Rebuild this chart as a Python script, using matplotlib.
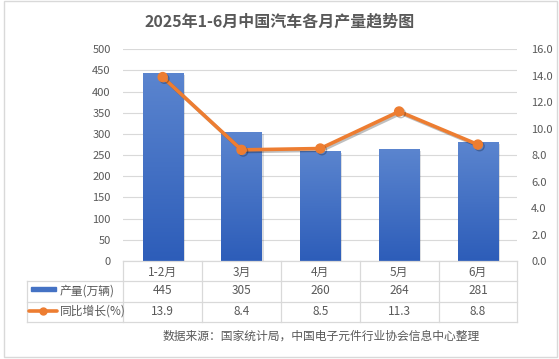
import numpy as np
import matplotlib
matplotlib.use('Agg')
import matplotlib.pyplot as plt
import matplotlib.patheffects as pe
from matplotlib.colors import LinearSegmentedColormap
from matplotlib.lines import Line2D
from matplotlib.patches import Rectangle
from matplotlib.transforms import blended_transform_factory

plt.rcParams['font.family'] = ['Noto Sans CJK SC', 'DejaVu Sans']

# data
months = ['1-2月', '3月', '4月', '5月', '6月']
output = [445, 305, 260, 264, 281]          # 产量(万辆)
yoy = [13.9, 8.4, 8.5, 11.3, 8.8]           # 同比增长(%)
output_lbl = ['445', '305', '260', '264', '281']
yoy_lbl = ['13.9', '8.4', '8.5', '11.3', '8.8']

title = '2025年1-6月中国汽车各月产量趋势图'
source = '数据来源：国家统计局，中国电子元件行业协会信息中心整理'

W, H = 559, 359
gray = '#595959'
line_gray = '#D9D9D9'
blue = '#4472C4'
orange = '#ED7D31'


def fx(px):
    return px / W


def fy(py):
    return 1 - py / H


fig = plt.figure(figsize=(W / 100, H / 100), dpi=100)

# outer frame
fig.patches.append(Rectangle((fx(4), fy(357)), fx(557) - fx(4), fy(1) - fy(357),
                             transform=fig.transFigure, fill=False,
                             edgecolor=line_gray, lw=1))

ax = fig.add_axes([fx(123.3), fy(261), fx(517.3) - fx(123.3), fy(49.3) - fy(261)])
ax2 = ax.twinx()

x = np.arange(len(months))

# bars with a vertical gradient
bars = ax.bar(x, output, width=0.51, color=blue, zorder=2)
cmap = LinearSegmentedColormap.from_list('bar', ['#2D5DB9', '#5B85CF'])
grad = np.linspace(0, 1, 256).reshape(-1, 1)
for b in bars:
    b.set_path_effects([pe.SimplePatchShadow(offset=(1.5, -1.5), alpha=0.15), pe.Normal()])
    x0, y0 = b.get_x(), b.get_y()
    im = ax.imshow(grad, cmap=cmap, origin='lower', aspect='auto',
                   extent=[x0, x0 + b.get_width(), y0, y0 + b.get_height()], zorder=2.1)
    im.set_clip_path(b)

ax.set_xlim(-0.5, len(months) - 0.5)
ax.set_ylim(0, 500)
ax.set_yticks(np.arange(0, 501, 50))
ax.grid(axis='y', color=line_gray, lw=0.8, zorder=0)
ax.set_axisbelow(True)

ax2.set_ylim(0, 16)
ax2.set_yticks(np.arange(0, 16.1, 2))
ax2.yaxis.set_major_formatter(matplotlib.ticker.FormatStrFormatter('%.1f'))
ax2.plot(x, yoy, color=orange, lw=2.6, marker='o', ms=6.5, zorder=3,
         path_effects=[pe.SimpleLineShadow(offset=(1.2, -1.2), alpha=0.25), pe.Normal()])

for a in (ax, ax2):
    for s in a.spines.values():
        s.set_visible(False)
ax.tick_params(axis='y', length=0, pad=9, labelsize=8, labelcolor=gray)
ax2.tick_params(axis='y', length=0, pad=10, labelsize=8, labelcolor=gray)
ax.set_xticks(x, months)
ax.tick_params(axis='x', length=0, pad=3.5, labelsize=8.5, labelcolor=gray)

# data table under the plot
tr = blended_transform_factory(ax.transData, fig.transFigure)
row_y = [261, 281, 301.5, 322]
for i in range(len(months)):
    ax.text(x[i], fy(291), output_lbl[i], transform=tr, ha='center', va='center',
            fontsize=8.5, color=gray, clip_on=False)
    ax.text(x[i], fy(311.5), yoy_lbl[i], transform=tr, ha='center', va='center',
            fontsize=8.5, color=gray, clip_on=False)

for xb in np.arange(-0.5, len(months), 1.0):
    fig.add_artist(Line2D([xb, xb], [fy(261), fy(322)], transform=tr, color=line_gray, lw=0.9))
fig.add_artist(Line2D([fx(123.3), fx(517.3)], [fy(261), fy(261)],
                      transform=fig.transFigure, color=line_gray, lw=0.9))
for yy in row_y[1:]:
    fig.add_artist(Line2D([fx(26.7), fx(517.3)], [fy(yy), fy(yy)],
                          transform=fig.transFigure, color=line_gray, lw=0.9))
fig.add_artist(Line2D([fx(26.7), fx(26.7)], [fy(281), fy(322)],
                      transform=fig.transFigure, color=line_gray, lw=0.9))

# legend keys inside the table
fig.patches.append(Rectangle((fx(31), fy(290.8)), fx(55.7) - fx(31), fy(287.3) - fy(290.8),
                             transform=fig.transFigure, color=blue))
fig.add_artist(Line2D([fx(29), fx(57)], [fy(310.5), fy(310.5)], transform=fig.transFigure,
                      color=orange, lw=2.6, solid_capstyle='round'))
fig.add_artist(Line2D([fx(43)], [fy(310.5)], transform=fig.transFigure,
                      color=orange, marker='o', ms=5, lw=0))
fig.text(fx(60), fy(291), '产量(万辆)', ha='left', va='center', fontsize=8.5, color=gray)
fig.text(fx(60), fy(311.5), '同比增长(%)', ha='left', va='center', fontsize=8.5, color=gray)

fig.text(fx(280), fy(22), title, ha='center', va='center', fontsize=11.5,
         fontweight='bold', color=gray)
fig.text(fx(321), fy(336), source, ha='center', va='center', fontsize=8.5, color=gray)

fig.savefig('out.png', dpi=100)
